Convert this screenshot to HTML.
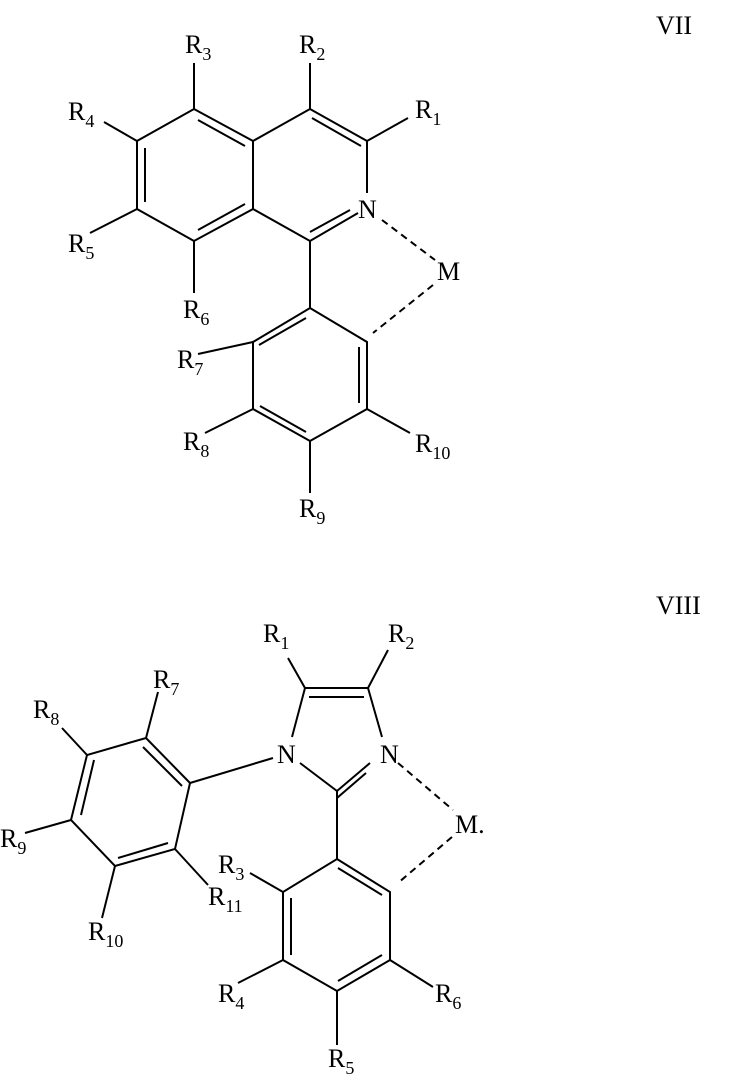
<!DOCTYPE html>
<html><head><meta charset="utf-8"><style>html,body{margin:0;padding:0;background:#fff}</style></head>
<body>
<svg width="737" height="1077" viewBox="0 0 737 1077" xmlns="http://www.w3.org/2000/svg" font-family="Liberation Serif, serif" font-size="26">
<g stroke="#000" stroke-width="2" fill="none" stroke-linecap="butt">
<!-- VII -->
<path d="M194,109 L253,141 L253,209 L194,241 L137,209 L137,141 Z"/>
<path d="M310,109 L367,141 L367,193 M358,213 L310,241 L253,209 M253,141 L310,109"/>
<path d="M198,120 L245,146 M145,148 L145,202 M198,230 L245,204"/>
<path d="M312,118 L361,146 M310,232 L350,210"/>
<path d="M194,109 L194,63 M310,109 L310,63 M367,141 L408,118 M137,141 L104,122 M137,209 L90,233 M194,241 L194,293 M310,241 L310,308"/>
<path d="M310,308 L367,342 L367,409 L310,441 L253,409 L253,342 Z"/>
<path d="M306,318 L259,345 M359,347 L359,403 M306,432 L260,406"/>
<path d="M253,342 L198,354 M253,409 L205,433 M310,441 L310,493 M367,409 L410,433"/>
<path d="M382,220 L435,260 M433,285 L373,333" stroke-dasharray="7,5"/>
<!-- VIII -->
<path d="M305,688 L368,688 M309,697 L364,697"/>
<path d="M305,688 L292,737 M368,688 L382,737 M300,763 L337,791 L370,763 M337,798 L366,773"/>
<path d="M305,688 L288,658 M368,688 L388,650"/>
<path d="M273,758 L190,783"/>
<path d="M190,783 L146,738 L87,755 L71,820 L115,866 L175,849 Z"/>
<path d="M182,786 L143,747 M94,760 L81,815 M118,858 L168,843"/>
<path d="M146,738 L158,692 M87,755 L62,728 M71,820 L25,833 M115,866 L102,918 M175,849 L208,885"/>
<path d="M337,791 L337,859"/>
<path d="M337,859 L390,892 L390,960 L337,991 L283,960 L283,892 Z"/>
<path d="M338,868 L382,895 M382,955 L338,981 M291,898 L291,955"/>
<path d="M283,892 L250,873 M283,960 L238,983 M337,991 L337,1045 M390,960 L433,987"/>
<path d="M398,763 L453,810 M452,837 L398,883" stroke-dasharray="7,5"/>
</g>
<g fill="#000">
<text x="656" y="34">VII</text>
<text x="656" y="614">VIII</text>
<text x="358" y="218">N</text>
<text x="437" y="280">M</text>
<text x="185" y="53">R<tspan font-size="18" dy="7">3</tspan></text>
<text x="299" y="53">R<tspan font-size="18" dy="7">2</tspan></text>
<text x="415" y="118">R<tspan font-size="18" dy="7">1</tspan></text>
<text x="68" y="120">R<tspan font-size="18" dy="7">4</tspan></text>
<text x="68" y="252">R<tspan font-size="18" dy="7">5</tspan></text>
<text x="183" y="318">R<tspan font-size="18" dy="7">6</tspan></text>
<text x="177" y="368">R<tspan font-size="18" dy="7">7</tspan></text>
<text x="183" y="450">R<tspan font-size="18" dy="7">8</tspan></text>
<text x="299" y="517">R<tspan font-size="18" dy="7">9</tspan></text>
<text x="415" y="452">R<tspan font-size="18" dy="7">10</tspan></text>
<text x="277" y="763">N</text>
<text x="380" y="763">N</text>
<text x="455" y="833">M.</text>
<text x="263" y="642">R<tspan font-size="18" dy="7">1</tspan></text>
<text x="388" y="642">R<tspan font-size="18" dy="7">2</tspan></text>
<text x="153" y="688">R<tspan font-size="18" dy="7">7</tspan></text>
<text x="33" y="718">R<tspan font-size="18" dy="7">8</tspan></text>
<text x="0" y="847">R<tspan font-size="18" dy="7">9</tspan></text>
<text x="88" y="940">R<tspan font-size="18" dy="7">10</tspan></text>
<text x="208" y="905">R<tspan font-size="18" dy="7">11</tspan></text>
<text x="218" y="873">R<tspan font-size="18" dy="7">3</tspan></text>
<text x="218" y="1002">R<tspan font-size="18" dy="7">4</tspan></text>
<text x="328" y="1067">R<tspan font-size="18" dy="7">5</tspan></text>
<text x="435" y="1002">R<tspan font-size="18" dy="7">6</tspan></text>
</g>
</svg>
</body></html>
